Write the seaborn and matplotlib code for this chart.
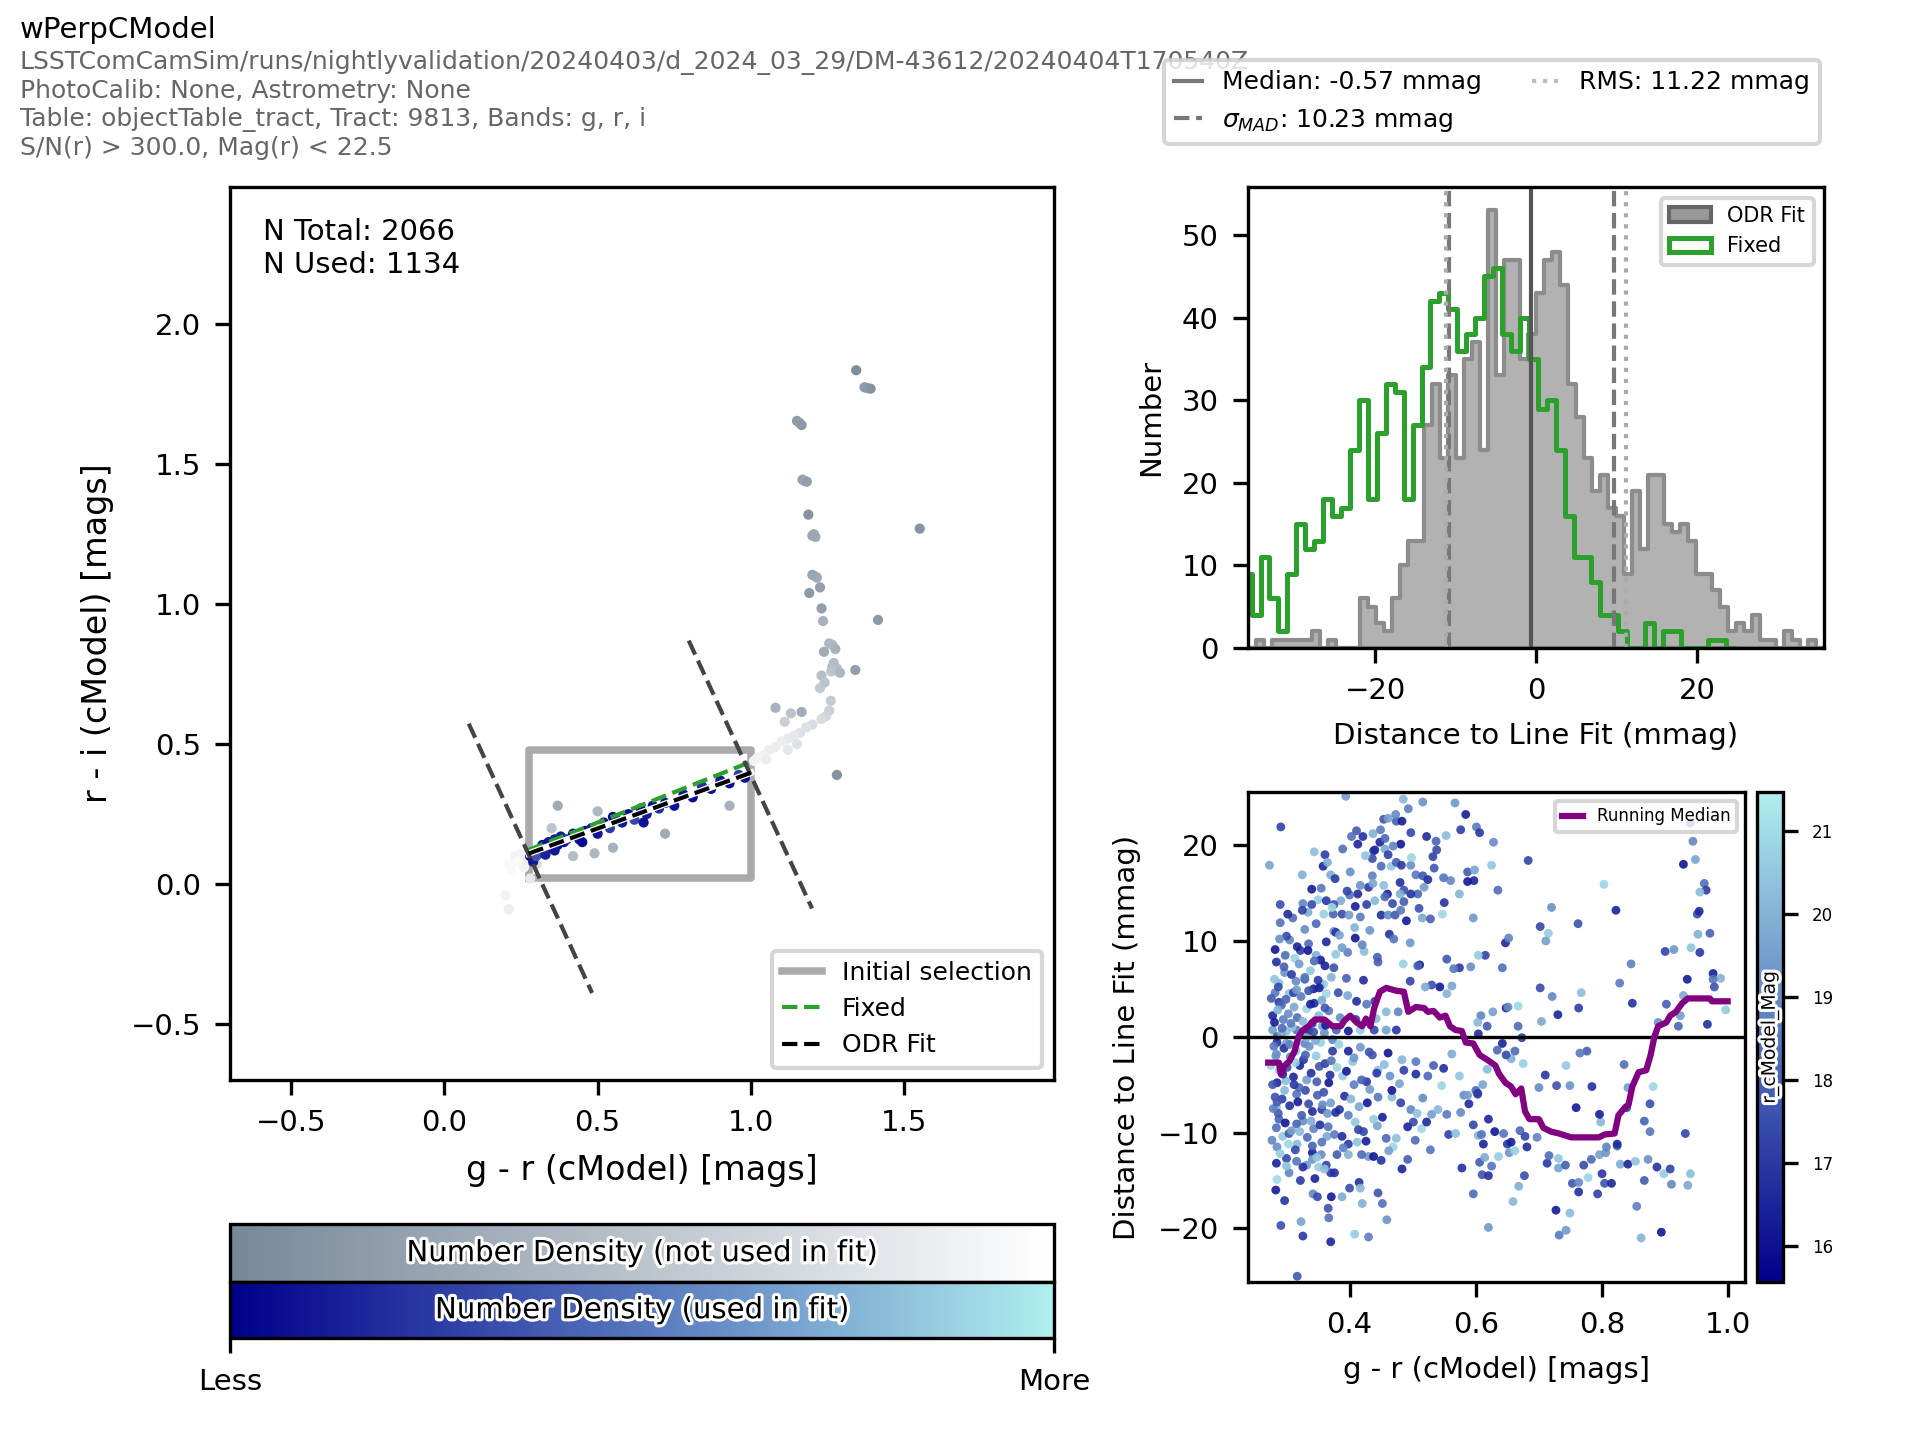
import numpy as np
import matplotlib
matplotlib.use("Agg")
import matplotlib.pyplot as plt
import matplotlib.patheffects as pe
from matplotlib.colors import LinearSegmentedColormap, Normalize, to_rgba
from matplotlib.cm import ScalarMappable
from matplotlib.lines import Line2D
from matplotlib.patches import Patch
import pandas as pd
import seaborn as sns

# ---- colour-colour plot: objects not used in the fit (density 0..1)
gray_x = [1.343, 1.370, 1.380, 1.390, 1.150, 1.158, 1.165, 1.168, 1.175, 1.182,
          1.187, 1.200, 1.210, 1.205, 1.550, 1.208, 1.215, 1.200, 1.225, 1.190,
          1.414, 1.235, 1.230, 1.255, 1.265, 1.275, 1.238, 1.265, 1.280, 1.270,
          1.262, 1.290, 1.340, 1.230, 1.225, 1.240, 1.165, 1.080, 1.260, 1.255,
          1.245, 1.230, 1.200, 1.180, 1.160, 1.140, 1.120, 1.100, 1.080, 1.060,
          1.040, 1.020, 1.010, 1.050, 1.120, 1.150, 1.280, 1.110, 1.130,
          0.230, 0.210, 0.220, 0.250, 0.240, 0.260, 0.270, 0.200, 0.210, 0.280, 0.300,
          0.370, 0.500, 0.720, 0.930, 0.490, 0.550, 0.420, 0.350]
gray_y = [1.836, 1.775, 1.772, 1.770, 1.655, 1.648, 1.640, 1.445, 1.440, 1.438,
          1.320, 1.245, 1.240, 1.250, 1.270, 1.100, 1.095, 1.105, 1.060, 1.040,
          0.944, 0.940, 0.985, 0.860, 0.855, 0.840, 0.830, 0.775, 0.770, 0.790,
          0.760, 0.755, 0.765, 0.745, 0.700, 0.720, 0.615, 0.630, 0.655, 0.620,
          0.600, 0.590, 0.570, 0.560, 0.540, 0.530, 0.520, 0.510, 0.490, 0.480,
          0.460, 0.450, 0.440, 0.445, 0.480, 0.500, 0.390, 0.580, 0.610,
          0.100, 0.070, 0.050, 0.110, 0.080, 0.060, 0.090, -0.040, -0.090, 0.020, 0.070,
          0.280, 0.260, 0.180, 0.280, 0.110, 0.130, 0.100, 0.200]
gray_dens = [0.05, 0.15, 0.15, 0.10, 0.15, 0.20, 0.15, 0.20, 0.25, 0.20,
             0.10, 0.25, 0.30, 0.25, 0.10, 0.30, 0.30, 0.25, 0.20, 0.15,
             0.15, 0.35, 0.20, 0.40, 0.40, 0.35, 0.30, 0.40, 0.45, 0.45,
             0.50, 0.40, 0.20, 0.45, 0.55, 0.50, 0.30, 0.35, 0.55, 0.60,
             0.65, 0.70, 0.70, 0.75, 0.75, 0.80, 0.80, 0.85, 0.85, 0.85,
             0.90, 0.90, 0.90, 0.85, 0.80, 0.75, 0.10, 0.60, 0.50,
             0.90, 0.95, 0.95, 0.90, 0.95, 0.90, 0.85, 0.90, 0.85, 0.80, 0.70,
             0.30, 0.40, 0.30, 0.35, 0.40, 0.35, 0.45, 0.50]

# ---- objects used in the fit
used_x = [0.28, 0.29, 0.30, 0.31, 0.32, 0.33, 0.34, 0.35, 0.36, 0.37,
          0.38, 0.39, 0.40, 0.42, 0.44, 0.46, 0.48, 0.50, 0.52, 0.54,
          0.56, 0.58, 0.60, 0.62, 0.64, 0.66, 0.68, 0.70, 0.72, 0.75,
          0.78, 0.81, 0.84, 0.87, 0.90, 0.93, 0.96, 0.98, 0.30, 0.33,
          0.36, 0.45, 0.55, 0.65]
used_y = [0.10, 0.08, 0.12, 0.11, 0.14, 0.12, 0.15, 0.13, 0.16, 0.14,
          0.17, 0.15, 0.16, 0.18, 0.16, 0.19, 0.20, 0.18, 0.22, 0.20,
          0.23, 0.22, 0.25, 0.23, 0.27, 0.25, 0.28, 0.27, 0.29, 0.28,
          0.32, 0.31, 0.35, 0.34, 0.37, 0.36, 0.39, 0.38, 0.10, 0.105,
          0.12, 0.15, 0.24, 0.22]
used_dens = [0.05, 0.10, 0.02, 0.05, 0.08, 0.03, 0.10, 0.05, 0.15, 0.04,
             0.12, 0.06, 0.20, 0.05, 0.10, 0.03, 0.15, 0.08, 0.05, 0.25,
             0.04, 0.10, 0.06, 0.30, 0.05, 0.12, 0.04, 0.18, 0.06, 0.08,
             0.10, 0.05, 0.20, 0.07, 0.12, 0.04, 0.25, 0.06, 0.35, 0.15,
             0.10, 0.05, 0.02, 0.08]

# initial selection box and fit lines
sel_x = [0.275, 1.0]
sel_y = [0.02, 0.48]
odr_x = [0.275, 1.0]
odr_y = [0.109, 0.398]
fixed_x = [0.275, 1.0]
fixed_y = [0.122, 0.437]
perp1_x = [0.080, 0.482]
perp1_y = [0.573, -0.389]
perp2_x = [0.797, 1.199]
perp2_y = [0.870, -0.087]

# ---- histograms of perpendicular distance (mmag)
odr_counts = [0, 1, 0, 1, 1, 1, 1, 1, 2, 0,
              1, 0, 0, 0, 6, 5, 3, 2, 6, 10,
              13, 13, 27, 32, 23, 33, 23, 35, 37, 24,
              53, 33, 47, 47, 35, 38, 43, 47, 48, 44,
              32, 28, 23, 19, 21, 17, 16, 9, 19, 12,
              21, 21, 15, 14, 15, 13, 9, 9, 7, 5,
              2, 3, 2, 4, 1, 1, 0, 2, 1, 0,
              1, 0]
fixed_counts = [9, 4, 11, 6, 2, 9, 15, 12, 13, 18,
                16, 17, 24, 30, 18, 26, 32, 31, 18, 27,
                34, 42, 43, 41, 36, 38, 40, 45, 46, 38,
                36, 40, 35, 29, 30, 24, 16, 11, 11, 8,
                4, 4, 2, 0, 0, 3, 0, 2, 2, 0,
                0, 0, 1, 1, 0]
median_val = -0.57
sigma_mad = 10.23
rms_val = 11.22

# ---- residuals vs colour
res_x = [0.273, 0.291, 0.290, 0.325, 0.344, 0.361, 0.358, 0.370, 0.350, 0.340,
         0.326, 0.340, 0.394, 0.411, 0.403, 0.421, 0.437, 0.438, 0.448, 0.456,
         0.454, 0.461, 0.474, 0.483, 0.493, 0.485, 0.516, 0.497, 0.481, 0.469,
         0.456, 0.436, 0.440, 0.450, 0.466, 0.474, 0.482, 0.497, 0.505, 0.516,
         0.524, 0.537, 0.538, 0.553, 0.567, 0.584, 0.576, 0.601, 0.606, 0.628,
         0.625, 0.683, 0.587, 0.598, 0.597, 0.587, 0.560, 0.574, 0.549, 0.532,
         0.518, 0.508, 0.497, 0.486, 0.480, 0.460, 0.454, 0.436, 0.430, 0.417,
         0.413, 0.400, 0.386, 0.375, 0.363, 0.359, 0.374, 0.388, 0.399, 0.409,
         0.417, 0.427, 0.440, 0.450, 0.461, 0.472, 0.481, 0.490, 0.515, 0.528,
         0.547, 0.550, 0.635, 0.596, 0.702, 0.715, 0.647, 0.652, 0.711, 0.762,
         0.720, 0.803, 0.822, 0.940, 0.944, 0.929, 0.948, 0.962, 0.965, 0.955,
         0.951, 0.954, 0.952, 0.971, 0.941, 0.955, 0.900, 0.914, 0.846, 0.976,
         0.988, 0.976, 0.978, 0.935, 0.929, 0.902, 0.996, 0.967, 0.921, 0.924,
         0.848, 0.889, 0.828, 0.767, 0.763, 0.730, 0.721, 0.702, 0.704, 0.667,
         0.667, 0.673, 0.648, 0.627, 0.608, 0.603, 0.618, 0.604, 0.651, 0.642,
         0.615, 0.604, 0.592, 0.574, 0.565, 0.554, 0.543, 0.554, 0.562, 0.530,
         0.520, 0.511, 0.508, 0.496, 0.485, 0.496, 0.463, 0.470, 0.445, 0.423,
         0.409, 0.397, 0.388, 0.378, 0.375, 0.361, 0.347, 0.335, 0.322, 0.313,
         0.305, 0.300, 0.284, 0.297, 0.288, 0.282, 0.288, 0.278, 0.278, 0.292,
         0.304, 0.315, 0.329, 0.343, 0.355, 0.363, 0.382, 0.397, 0.411, 0.427,
         0.440, 0.458, 0.477, 0.474, 0.458, 0.439, 0.417, 0.398, 0.379, 0.360,
         0.335, 0.316, 0.300, 0.285, 0.285, 0.300, 0.329, 0.354, 0.373, 0.398,
         0.417, 0.436, 0.461, 0.483, 0.505, 0.533, 0.562, 0.549, 0.574, 0.600,
         0.603, 0.581, 0.546, 0.524, 0.505, 0.486, 0.464, 0.445, 0.427, 0.407,
         0.389, 0.367, 0.348, 0.332, 0.316, 0.297, 0.285, 0.282, 0.284, 0.288,
         0.284, 0.294, 0.285, 0.284, 0.300, 0.304, 0.285, 0.297, 0.291, 0.323,
         0.326, 0.317, 0.316, 0.317, 0.332, 0.341, 0.341, 0.351, 0.363, 0.355,
         0.364, 0.376, 0.388, 0.398, 0.412, 0.430, 0.438, 0.419, 0.398, 0.380,
         0.370, 0.376, 0.360, 0.342, 0.349, 0.371, 0.388, 0.367, 0.370, 0.408,
         0.430, 0.420, 0.400, 0.415, 0.417, 0.445, 0.452, 0.459, 0.483, 0.492,
         0.469, 0.458, 0.452, 0.444, 0.422, 0.409, 0.398, 0.384, 0.370, 0.356,
         0.341, 0.326, 0.316, 0.304, 0.428, 0.445, 0.467, 0.481, 0.497, 0.507,
         0.530, 0.501, 0.514, 0.522, 0.554, 0.576, 0.557, 0.568, 0.578, 0.596,
         0.606, 0.604, 0.612, 0.620, 0.610, 0.620, 0.614, 0.625, 0.636, 0.630,
         0.644, 0.650, 0.653, 0.662, 0.670, 0.678, 0.681, 0.668, 0.677, 0.659,
         0.656, 0.697, 0.713, 0.716, 0.731, 0.731, 0.742, 0.727, 0.732, 0.743,
         0.749, 0.753, 0.763, 0.763, 0.771, 0.778, 0.783, 0.796, 0.800, 0.793,
         0.804, 0.806, 0.815, 0.824, 0.829, 0.841, 0.853, 0.867, 0.855, 0.862,
         0.873, 0.887, 0.898, 0.908, 0.894, 0.910, 0.936, 0.940, 0.932, 0.876,
         0.867, 0.881, 0.876, 0.841, 0.835, 0.839, 0.824, 0.807, 0.798, 0.796,
         0.784, 0.776, 0.765, 0.759, 0.743, 0.749, 0.728, 0.710, 0.700, 0.675,
         0.656, 0.662, 0.642, 0.648, 0.634, 0.618, 0.611, 0.603, 0.620, 0.609,
         0.596, 0.589, 0.587,
         0.275, 0.278, 0.280, 0.281, 0.283, 0.286, 0.287, 0.289, 0.292, 0.293,
         0.295, 0.296, 0.298, 0.299, 0.301, 0.303, 0.305, 0.306, 0.308, 0.309,
         0.311, 0.312, 0.314, 0.315, 0.317, 0.318, 0.320, 0.321, 0.323, 0.324,
         0.326, 0.327, 0.329, 0.330, 0.332, 0.333, 0.335, 0.336, 0.338, 0.339,
         0.341, 0.343, 0.344, 0.346, 0.347, 0.349, 0.351, 0.352, 0.354, 0.356,
         0.357, 0.359, 0.361, 0.363, 0.365, 0.367, 0.369, 0.371, 0.373, 0.375,
         0.283, 0.290, 0.300, 0.310, 0.322, 0.334, 0.345, 0.355, 0.366, 0.378,
         0.380, 0.385, 0.392, 0.395, 0.405, 0.410, 0.415, 0.422, 0.432, 0.442,
         0.276, 0.279, 0.282, 0.284, 0.287, 0.290, 0.293, 0.296, 0.299, 0.302,
         0.305, 0.308, 0.311, 0.314, 0.317, 0.320, 0.323, 0.326, 0.329, 0.332,
         0.335, 0.338, 0.341, 0.344, 0.347, 0.350, 0.353, 0.356, 0.359, 0.362,
         0.277, 0.281, 0.285, 0.289, 0.294, 0.298, 0.303, 0.307, 0.312, 0.316,
         0.321, 0.325, 0.330, 0.334, 0.339, 0.343, 0.348, 0.352, 0.357, 0.361,
         0.366, 0.372, 0.378, 0.384, 0.390, 0.396, 0.402, 0.408, 0.414, 0.420,
         0.426, 0.432, 0.438, 0.444, 0.450, 0.456, 0.462, 0.468, 0.474, 0.480,
         0.365, 0.371, 0.377, 0.383, 0.389, 0.395, 0.401, 0.407, 0.413, 0.419,
         0.425, 0.431, 0.437, 0.443, 0.449, 0.455, 0.461, 0.467, 0.473, 0.479,
         0.486, 0.492, 0.498, 0.504, 0.510, 0.516, 0.522, 0.528, 0.534, 0.540]
res_y = [17.9, 21.9, 11.9, 16.9, 19.3, 19.0, 17.8, 16.9, 14.3, 13.8,
         13.9, 15.4, 25.1, 21.5, 20.9, 20.9, 21.2, 19.4, 20.3, 20.7,
         22.7, 22.8, 22.5, 22.5, 23.8, 24.8, 24.5, 21.3, 20.1, 19.9,
         19.6, 18.6, 19.5, 17.8, 17.8, 18.2, 17.9, 17.9, 16.9, 16.8,
         16.4, 20.4, 19.5, 21.0, 24.4, 23.2, 21.6, 21.9, 21.3, 20.3,
         17.9, 18.4, 17.2, 17.4, 16.3, 16.2, 16.3, 14.9, 16.6, 18.8,
         15.6, 14.9, 14.9, 15.3, 14.9, 14.9, 15.8, 16.8, 15.6, 15.8,
         14.9, 14.8, 14.2, 13.8, 14.2, 12.8, 12.8, 12.8, 12.7, 13.6,
         12.5, 13.8, 14.2, 12.7, 12.7, 12.7, 13.2, 12.1, 12.4, 12.3,
         12.8, 14.0, 15.3, 12.4, 11.5, 10.8, 9.8, 10.3, 10.0, 11.8,
         13.5, 15.9, 13.2, 22.3, 20.4, 18.0, 18.5, 16.0, 15.3, 15.1,
         12.8, 13.1, 10.7, 10.8, 9.3, 8.8, 8.9, 9.1, 7.6, 6.6,
         6.1, 6.0, 5.2, 6.0, 4.3, 3.4, 2.8, 1.3, 1.1, 2.2,
         3.5, 1.5, 5.6, 4.6, 3.0, 2.3, 4.2, 5.1, 1.6, 3.2,
         1.1, -0.1, 3.0, 2.6, 2.2, 1.5, 1.1, 0.3, 3.1, 7.2,
         8.5, 8.5, 7.3, 7.2, 7.1, 8.1, 5.2, 4.5, 5.3, 5.4,
         5.2, 7.5, 7.4, 5.8, 7.6, 9.8, 10.7, 10.2, 7.8, 8.9,
         10.3, 8.8, 9.3, 8.6, 7.2, 7.4, 8.5, 9.7, 9.0, 8.2,
         10.1, 10.5, 7.8, 6.7, 5.6, 4.6, 3.6, 2.2, 0.7, 3.3,
         4.5, 5.8, 6.0, 5.0, 5.4, 4.5, 4.6, 4.3, 3.7, 3.4,
         3.7, 2.6, 2.6, 0.7, 0.7, 0.7, 0.7, 0.6, 0.7, 0.4,
         0.6, 0.7, 0.6, 0.0, -0.6, -0.7, -0.7, -0.6, -1.5, -1.5,
         -1.1, -1.9, -1.7, -2.4, -2.6, -3.0, -1.8, -3.3, -4.1, -5.6,
         -6.0, -6.1, -5.1, -4.1, -3.9, -3.5, -4.1, -3.5, -4.7, -5.0,
         -4.1, -4.8, -4.7, -4.5, -6.0, -5.6, -4.8, -6.3, -7.4, -8.6,
         -9.5, -10.4, -11.5, -13.2, -12.7, -14.2, -14.9, -17.1, -19.7, -19.3,
         -20.8, -25.0, -13.0, -11.2, -13.4, -12.1, -11.4, -13.6, -13.4, -12.3,
         -10.4, -10.2, -10.4, -11.2, -11.0, -12.5, -12.5, -12.3, -12.3, -12.3,
         -14.2, -14.2, -13.8, -16.4, -16.7, -16.7, -16.7, -18.9, -21.4, -20.6,
         -20.9, -17.4, -15.8, -15.2, -15.8, -16.3, -17.4, -19.1, -13.8, -12.8,
         -11.5, -10.6, -8.4, -9.3, -9.9, -8.9, -8.2, -7.6, -6.9, -7.6,
         -7.8, -8.8, -9.1, -10.1, -6.9, -6.3, -6.3, -6.9, -7.6, -8.0,
         -8.1, -8.9, -9.6, -8.9, -8.1, -7.9, -10.2, -10.1, -13.7, -16.4,
         -13.1, -10.3, -11.2, -19.9, -14.4, -14.5, -12.6, -13.5, -12.5, -9.9,
         -10.1, -11.2, -12.1, -11.9, -9.8, -10.4, -11.5, -15.6, -14.5, -17.2,
         -11.0, -10.5, -13.2, -12.4, -12.7, -13.7, -13.4, -18.1, -20.7, -20.2,
         -18.4, -15.3, -15.2, -16.2, -13.4, -14.7, -12.8, -12.3, -14.3, -16.4,
         -15.3, -12.1, -15.3, -11.4, -13.3, -13.3, -13.0, -15.0, -17.7, -21.0,
         -12.8, -13.6, -14.3, -13.8, -20.4, -15.4, -15.5, -14.3, -10.1, -9.9,
         -8.8, -5.2, -7.0, -5.3, -2.9, -7.4, -11.2, -11.5, -8.9, -8.1,
         -5.2, -1.5, -1.7, -7.4, -3.0, -5.1, -5.1, -4.0, -5.3, -2.8,
         -2.3, -1.5, -0.7, -1.9, -1.4, -3.4, -5.0, -5.9, -8.6, -10.2,
         -9.2, -7.0, -6.1,
         -3.0, -5.0, -1.0, 1.5, -2.0, 2.8, -8.0, -3.5, 0.3, -6.5,
         1.8, -1.2, -9.0, 3.9, -3.2, 2.4, -7.2, -2.1, 6.5, 1.0,
         -4.2, 3.1, -11.8, -1.5, 2.0, -6.8, 7.6, -3.0, 4.2, -8.2,
         1.6, -2.4, 11.2, -5.6, 2.9, -10.5, 4.8, -1.0, 6.9, -3.8,
         1.4, -9.6, 3.5, -0.4, 11.8, -6.1, 2.2, -3.1, 8.0, -11.0,
         1.1, 5.5, -2.8, 9.9, -8.0, 2.7, -4.0, 6.2, -0.3, 11.0,
         -16.0, 13.8, -13.5, 12.4, -15.0, 13.0, -14.8, 15.5, -17.9, 10.9,
         -3.2, 2.0, -6.2, 6.1, -2.6, 1.8, -7.3, 5.9, -5.5, 1.9,
         4.0, -7.5, 9.1, -1.8, 5.2, -12.2, 0.9, 7.3, -4.6, 12.8,
         -0.8, -9.8, 4.6, -2.7, 9.4, -5.3, 0.2, -13.6, 6.2, -0.1,
         -7.0, 3.4, -12.8, 7.9, -2.0, 5.9, -9.2, 3.8, -5.8, 1.2,
         -10.8, 6.0, -6.8, 10.2, -3.9, 8.5, -11.2, 1.4, -5.0, 4.9,
         -9.9, 13.2, -1.9, 9.0, -8.8, 0.5, -12.6, 5.1, -7.1, 3.0,
         -9.4, 13.5, -7.9, 10.6, -11.6, 15.2, -6.5, 11.4, -9.7, 9.6,
         -10.9, 11.1, -8.6, 8.3, -12.9, 14.6, -11.9, 13.9, -10.6, 16.1,
         18.2, -2.5, 16.5, -0.8, 19.6, -3.6, 17.2, -2.2, 20.1, -4.5,
         18.9, -1.6, 16.0, -3.8, 21.6, -2.9, 19.0, -5.6, 23.2, -4.9,
         14.1, -9.4, 18.7, -10.8, 13.4, -6.4, 20.9, -11.8, 17.6, -7.6]
res_mag = [19.6, 17.2, 18.4, 19.9, 20.3, 17.1, 16.5, 19.8, 20.6, 17.4,
           18.9, 16.2, 19.4, 17.8, 18.3, 16.8, 19.9, 17.0, 16.4, 18.1,
           17.6, 19.5, 17.9, 16.3, 18.7, 20.1, 19.2, 17.3, 16.1, 18.8,
           19.7, 17.5, 16.6, 18.2, 20.4, 17.9, 16.9, 19.1, 18.5, 17.7,
           16.7, 18.0, 17.4, 20.2, 19.3, 16.3, 17.1, 18.6, 16.9, 19.0,
           20.5, 17.3, 17.8, 19.6, 16.5, 16.2, 18.9, 20.0, 18.4, 17.2,
           19.5, 18.1, 16.8, 17.6, 19.9, 16.4, 20.3, 18.7, 17.0, 19.2,
           16.6, 18.3, 19.8, 17.5, 16.9, 20.7, 18.0, 17.4, 19.4, 16.3,
           18.6, 17.1, 20.1, 16.7, 19.0, 17.8, 18.5, 16.2, 19.7, 17.9,
           20.9, 16.8, 18.2, 19.3, 17.3, 20.6, 16.5, 18.8, 19.5, 17.6,
           19.1, 20.8, 16.4, 17.7, 18.9, 16.1, 19.6, 18.3, 17.0, 20.2,
           17.5, 16.6, 19.9, 18.0, 20.4, 16.9, 17.2, 19.3, 18.7, 16.3,
           20.0, 18.4, 17.6, 16.2, 19.8, 17.9, 20.5, 16.7, 18.1, 19.4,
           16.8, 19.2, 18.6, 20.3, 17.1, 16.4, 18.9, 17.4, 19.7, 20.9,
           18.2, 17.0, 16.5, 19.5, 18.8, 20.1, 17.8, 16.6, 19.0, 18.3,
           17.3, 20.6, 19.1, 16.9, 18.5, 17.7, 16.2, 20.0, 19.6, 17.5,
           19.8, 16.3, 18.0, 17.2, 20.7, 19.3, 16.8, 18.4, 17.9, 20.2,
           16.1, 18.7, 19.4, 20.5, 17.6, 16.4, 19.9, 18.2, 17.1, 20.8,
           18.9, 17.4, 16.7, 19.2, 20.3, 18.6, 17.0, 16.5, 19.5, 18.1,
           20.4, 19.0, 17.8, 16.3, 18.3, 20.9, 17.5, 19.7, 16.6, 18.5,
           17.2, 20.1, 18.8, 16.9, 19.6, 17.3, 20.6, 16.2, 18.0, 19.1,
           16.5, 18.4, 20.2, 17.7, 16.8, 19.4, 18.9, 20.7, 17.0, 16.4,
           19.3, 17.6, 16.1, 20.0, 18.6, 17.9, 19.8, 16.7, 20.4, 18.2,
           17.4, 19.0, 20.8, 18.1, 16.6, 17.1, 19.2, 20.3, 16.9, 18.7,
           20.6, 16.2, 17.8, 19.5, 18.4, 20.1, 16.5, 17.6, 19.9, 18.0,
           18.3, 20.5, 19.1, 16.4, 17.3, 18.8, 20.9, 16.8, 17.5, 19.6,
           16.9, 17.7, 18.5, 20.2, 19.4, 16.3, 18.0, 20.7, 17.2, 19.0,
           19.7, 18.6, 16.6, 17.0, 20.4, 19.3, 16.1, 18.2, 20.0, 17.8,
           17.1, 16.7, 20.3, 18.9, 17.4, 16.2, 19.8, 18.4, 16.5, 20.6,
           18.7, 19.9, 17.5, 16.8, 20.1, 17.6, 18.3, 19.2, 16.4, 17.9,
           20.8, 18.1, 16.3, 19.6, 17.3, 20.5, 18.8, 16.9, 19.4, 17.0,
           16.6, 19.1, 18.0, 17.7, 16.2, 18.5, 20.2, 17.2, 18.9, 20.4,
           19.5, 17.4, 20.9, 16.5, 18.6, 19.0, 17.1, 20.3, 16.7, 18.2,
           17.8, 20.0, 16.4, 19.3, 17.6, 16.8, 19.7, 18.4, 20.6, 16.1,
           18.4, 16.9, 19.2, 20.7, 18.1, 17.3, 16.6, 19.9, 17.5, 20.1,
           16.3, 18.8, 17.0, 18.3, 20.5, 19.6, 17.9, 16.2, 18.6, 19.4,
           20.2, 17.7, 19.0, 16.7, 17.4, 20.8, 18.2, 19.5, 16.9, 17.1,
           17.6, 19.3, 16.5, 18.0, 19.8, 16.4, 20.4, 17.8, 18.7, 20.0,
           19.1, 16.8, 20.6, 17.2, 16.1, 18.9, 19.7, 20.3, 17.3, 18.5,
           18.0, 20.9, 17.5, 19.4, 18.3, 17.0, 16.6, 18.8, 20.1, 16.3,
           16.7, 17.9, 18.6, 16.2, 20.5, 19.2, 17.6, 16.9, 19.0, 20.7,
           19.9, 18.2, 16.4, 17.4, 18.1, 20.2, 19.6, 17.1, 16.5, 18.4,
           17.3, 16.6, 19.5, 20.8, 17.7, 18.5, 16.3, 19.3, 20.0, 17.8,
           20.3, 19.8, 17.2, 18.7, 16.8, 16.1, 18.0, 17.5, 19.1, 16.7,
           18.9, 17.0, 20.4, 16.5, 19.7, 17.3, 20.6, 18.3, 16.2, 19.4,
           16.4, 18.6, 17.8, 20.1, 16.9, 19.0, 17.4, 20.9, 18.2, 17.6,
           19.2, 20.5, 16.7, 17.1, 18.8, 16.6, 19.9, 18.1, 17.9, 20.2,
           17.7, 16.3, 18.4, 19.6, 20.7, 17.2, 16.5, 19.3, 18.6, 16.8,
           20.0, 18.9, 19.5, 16.2, 17.5, 20.3, 18.3, 17.0, 19.8, 16.4,
           18.5, 17.6, 16.9, 20.8, 19.1, 16.7, 18.0, 20.4, 17.3, 19.7,
           16.6, 19.4, 20.1, 17.8, 18.7, 16.1, 19.2, 17.4, 20.6, 18.2,
           17.9, 20.3, 16.6, 18.8, 19.5, 17.2, 20.7, 16.4, 18.1, 19.9,
           16.8, 18.5, 20.0, 17.4, 16.3, 19.3, 18.2, 20.6, 17.0, 16.7,
           19.7, 17.6, 16.2, 18.9, 20.4, 17.8, 19.1, 16.5, 18.3, 20.8,
           18.6, 16.9, 19.4, 20.2, 17.1, 18.0, 16.1, 19.8, 17.5, 20.5,
           16.4, 19.0, 17.7, 18.4, 20.9, 16.6, 19.6, 18.7, 17.3, 20.1,
           20.0, 17.2, 18.8, 16.3, 19.2, 20.6, 17.9, 16.8, 18.1, 19.5,
           17.4, 20.3, 16.7, 19.9, 18.5, 17.0, 20.7, 18.3, 16.2, 19.1,
           19.3, 16.5, 18.0, 20.4, 17.6, 19.7, 16.9, 18.6, 20.2, 17.1,
           16.1, 18.9, 19.6, 17.8, 16.4, 20.8, 18.2, 17.5, 19.0, 16.6,
           18.4, 17.7, 20.1, 16.2, 19.4, 17.3, 18.7, 20.5, 16.8, 19.8]

# running median of the residuals
rm_x = [0.271, 0.288, 0.291, 0.297, 0.304, 0.313, 0.319, 0.326, 0.335, 0.345,
        0.360, 0.373, 0.386, 0.392, 0.401, 0.411, 0.420, 0.426, 0.433, 0.439,
        0.448, 0.458, 0.474, 0.486, 0.493, 0.505, 0.518, 0.524, 0.533, 0.543,
        0.552, 0.559, 0.568, 0.578, 0.584, 0.596, 0.606, 0.618, 0.631, 0.637,
        0.647, 0.656, 0.663, 0.672, 0.678, 0.685, 0.700, 0.707, 0.719, 0.732,
        0.751, 0.776, 0.795, 0.804, 0.820, 0.826, 0.836, 0.842, 0.848, 0.858,
        0.870, 0.877, 0.883, 0.889, 0.902, 0.908, 0.917, 0.927, 0.936, 0.971,
        0.974, 0.999]
rm_y = [-2.7, -2.7, -3.9, -3.0, -2.6, -1.5, 0.0, 0.7, 1.1, 1.8,
        1.8, 1.1, 1.1, 1.7, 2.2, 1.5, 1.1, 1.9, 1.1, 3.0,
        4.7, 5.1, 4.8, 4.7, 2.6, 3.1, 3.0, 2.6, 2.7, 2.0,
        2.2, 1.1, 0.7, 0.6, -0.6, -0.7, -1.9, -2.4, -3.0, -3.9,
        -4.8, -5.2, -6.0, -5.4, -7.8, -8.6, -8.6, -9.5, -9.9, -10.1,
        -10.5, -10.5, -10.5, -10.2, -10.1, -8.2, -7.4, -7.1, -5.2, -3.7,
        -3.5, -1.9, 0.0, 1.1, 1.5, 2.2, 2.6, 3.5, 4.0, 4.0,
        3.7, 3.7]

header = ("LSSTComCamSim/runs/nightlyvalidation/20240403/d_2024_03_29/DM-43612/20240404T170540Z\n"
          "PhotoCalib: None, Astrometry: None\n"
          "Table: objectTable_tract, Tract: 9813, Bands: g, r, i\n"
          "S/N(r) > 300.0, Mag(r) < 22.5")

cmap_used = LinearSegmentedColormap.from_list("used", ["#00008b", "#afeeee"])
cmap_unused = LinearSegmentedColormap.from_list("unused", ["#778899", "#ffffff"])
outline = [pe.withStroke(linewidth=1.5, foreground="white")]

plt.rcParams["xtick.labelsize"] = 7
plt.rcParams["ytick.labelsize"] = 7

fig = plt.figure(figsize=(6.4, 4.8), dpi=300)

# ---------------- colour-colour panel
ax = fig.add_axes([0.120, 0.250, 0.429, 0.620])
sns.scatterplot(x=gray_x, y=gray_y, hue=gray_dens, palette=cmap_unused, hue_norm=(0, 1),
                s=6, linewidth=0, legend=False, ax=ax, zorder=2)
sns.scatterplot(x=used_x, y=used_y, hue=used_dens, palette=cmap_used, hue_norm=(0, 1),
                s=6, linewidth=0, legend=False, ax=ax, zorder=3)
ax.plot([sel_x[0], sel_x[1], sel_x[1], sel_x[0], sel_x[0]],
        [sel_y[0], sel_y[0], sel_y[1], sel_y[1], sel_y[0]],
        color="#aaaaaa", lw=1.8, label="Initial selection", zorder=1)
ax.plot(fixed_x, fixed_y, color="tab:green", ls="--", lw=1.0, label="Fixed", zorder=4)
ax.plot(odr_x, odr_y, color="white", lw=1.6, zorder=4)
ax.plot(odr_x, odr_y, color="black", ls="--", lw=1.0, label="ODR Fit", zorder=5)
ax.plot(perp1_x, perp1_y, color="#444444", ls="--", lw=1.0, zorder=4)
ax.plot(perp2_x, perp2_y, color="#444444", ls="--", lw=1.0, zorder=4)
ax.set_xlim(-0.697, 1.988)
ax.set_ylim(-0.70, 2.49)
ax.set_xticks([-0.5, 0.0, 0.5, 1.0, 1.5])
ax.set_yticks([-0.5, 0.0, 0.5, 1.0, 1.5, 2.0])
ax.set_xlabel("g - r (cModel) [mags]", fontsize=8)
ax.set_ylabel("r - i (cModel) [mags]", fontsize=8)
ax.text(0.04, 0.965, "N Total: 2066\nN Used: 1134", transform=ax.transAxes,
        fontsize=7, va="top", ha="left")
ax.legend(loc="lower right", fontsize=6, handlelength=1.6)

# density colour bars
cax1 = fig.add_axes([0.120, 0.1097, 0.429, 0.040])
fig.colorbar(ScalarMappable(Normalize(0, 1), cmap_unused), cax=cax1,
             orientation="horizontal", ticks=[])
cax1.text(0.5, 0.5, "Number Density (not used in fit)", transform=cax1.transAxes,
          ha="center", va="center", fontsize=7, path_effects=outline)
cax2 = fig.add_axes([0.120, 0.0705, 0.429, 0.0392])
cb2 = fig.colorbar(ScalarMappable(Normalize(0, 1), cmap_used), cax=cax2,
                   orientation="horizontal", ticks=[0, 1])
cb2.ax.set_xticklabels(["Less", "More"], fontsize=7)
cax2.text(0.5, 0.5, "Number Density (used in fit)", transform=cax2.transAxes,
          ha="center", va="center", fontsize=7, path_effects=outline)

# ---------------- histogram panel
axh = fig.add_axes([0.650, 0.550, 0.300, 0.320])
odr_edges = np.linspace(-35.8, 35.8, len(odr_counts) + 1)
fixed_edges = -36.47 + 1.112 * np.arange(len(fixed_counts) + 1)
odr_df = pd.DataFrame({"dist": (odr_edges[:-1] + odr_edges[1:]) / 2, "n": odr_counts})
fixed_df = pd.DataFrame({"dist": (fixed_edges[:-1] + fixed_edges[1:]) / 2, "n": fixed_counts})
sns.histplot(data=odr_df, x="dist", weights="n", bins=odr_edges.tolist(),
             element="step", fill=True, facecolor=to_rgba("grey", 0.6),
             edgecolor="#8c8c8c", linewidth=1.0, ax=axh)
sns.histplot(data=fixed_df, x="dist", weights="n", bins=fixed_edges.tolist(),
             element="step", fill=False, color="tab:green", linewidth=1.2, ax=axh)
axh.axvline(median_val, color="#555555", lw=1.0)
for v in (median_val - sigma_mad, median_val + sigma_mad):
    axh.axvline(v, color="#777777", ls="--", lw=1.0)
for v in (-rms_val, rms_val):
    axh.axvline(v, color="#aaaaaa", ls=":", lw=1.0)
axh.set_xlim(-35.8, 35.8)
axh.set_ylim(0, 55.8)
axh.set_xticks([-20, 0, 20])
axh.set_yticks([0, 10, 20, 30, 40, 50])
axh.set_xlabel("Distance to Line Fit (mmag)", fontsize=7)
axh.set_ylabel("Number", fontsize=7)
axh.legend(handles=[Patch(facecolor="#999999", edgecolor="#666666", lw=1.0, label="ODR Fit"),
                    Patch(facecolor="white", edgecolor="tab:green", lw=1.2, label="Fixed")],
           loc="upper right", fontsize=5)

# ---------------- residual panel
axr = fig.add_axes([0.650, 0.1097, 0.259, 0.340])
res = pd.DataFrame(list(zip(res_x, res_y, res_mag)), columns=["gr", "dist", "mag"])
mag_norm = (15.56, 21.46)
sns.scatterplot(data=res, x="gr", y="dist", hue="mag", palette=cmap_used, hue_norm=mag_norm,
                s=4.5, linewidth=0, alpha=0.9, legend=False, ax=axr)
axr.axhline(0, color="black", lw=0.8)
sns.lineplot(x=rm_x, y=rm_y, sort=False, estimator=None, color="purple", lw=1.5,
             label="Running Median", ax=axr)
axr.set_xlim(0.239, 1.027)
axr.set_ylim(-25.6, 25.5)
axr.set_xticks([0.4, 0.6, 0.8, 1.0])
axr.set_yticks([-20, -10, 0, 10, 20])
axr.set_xlabel("g - r (cModel) [mags]", fontsize=7)
axr.set_ylabel("Distance to Line Fit (mmag)", fontsize=7)
axr.legend(loc="upper right", fontsize=4, handlelength=1.3)

caxr = fig.add_axes([0.915, 0.1097, 0.0135, 0.340])
cbr = fig.colorbar(ScalarMappable(Normalize(*mag_norm), cmap_used), cax=caxr)
cbr.set_ticks([16, 17, 18, 19, 20, 21])
cbr.ax.tick_params(labelsize=4)
caxr.text(0.5, 0.5, "r_cModel_Mag", transform=caxr.transAxes, rotation=90,
          ha="center", va="center", fontsize=4.5, path_effects=outline)

# ---------------- header and summary legend
fig.text(0.0102, 0.989, "wPerpCModel", fontsize=7, va="top", ha="left")
fig.text(0.0102, 0.965, header, fontsize=6, color="#666666", va="top", ha="left",
         linespacing=1.2)
stat_handles = [Line2D([], [], color="#777777", lw=1.0, label="Median: -0.57 mmag"),
                Line2D([], [], color="#777777", ls="--", lw=1.0,
                       label=r"$\sigma_{MAD}$: 10.23 mmag"),
                Line2D([], [], color="#bbbbbb", ls=":", lw=1.0, label="RMS: 11.22 mmag")]
fig.legend(handles=stat_handles, loc="upper right", bbox_to_anchor=(0.948, 0.958),
           borderaxespad=0, ncol=2, fontsize=6, handlelength=1.1)

fig.savefig("out.png", dpi=300)
